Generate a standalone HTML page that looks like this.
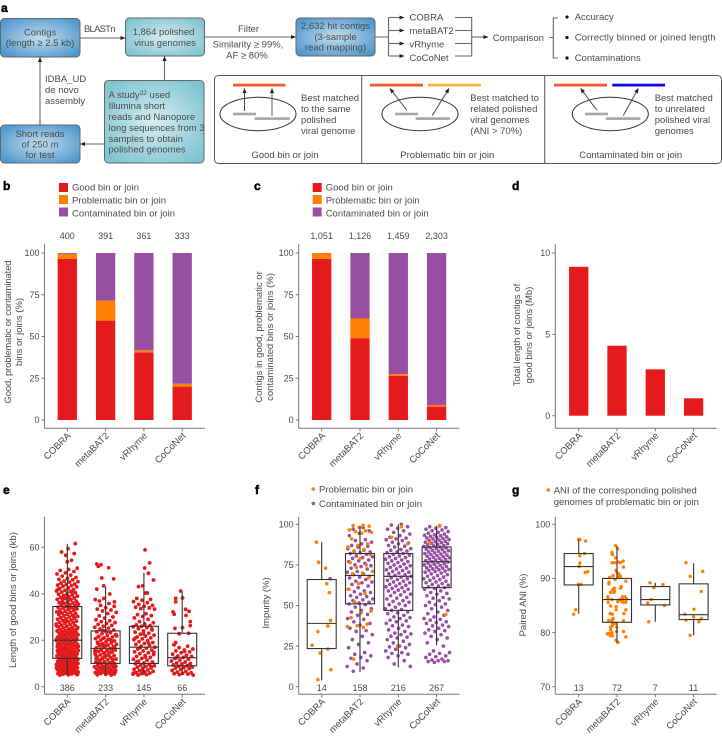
<!DOCTYPE html>
<html lang="en">
<head>
<meta charset="utf-8">
<title>Binning benchmark figure</title>
<style>
html,body{margin:0;padding:0;background:#fff;}
body{width:722px;height:736px;overflow:hidden;}
svg{display:block;font-family:"Liberation Sans",sans-serif;}
text{fill:#4a4a4a;font-size:9.5px;}
.pl{font-weight:bold;font-size:12px;fill:#000;stroke:#000;stroke-width:.5px;}
.ln{stroke:#666;stroke-width:1.1;fill:none;}
.dk{stroke:#444;stroke-width:1;fill:none;}
.c{text-anchor:middle;}
.bx{stroke:#666;stroke-width:1;}
</style>
</head>
<body>
<svg id="fig" width="722" height="736" viewBox="0 0 722 736" xmlns="http://www.w3.org/2000/svg">
<defs>
<radialGradient id="blueG" cx="50%" cy="50%" r="62%"><stop offset="0" stop-color="#c3deec"/><stop offset="1" stop-color="#4f97cd"/></radialGradient>
<radialGradient id="tealG" cx="50%" cy="50%" r="62%"><stop offset="0" stop-color="#d6edf1"/><stop offset="1" stop-color="#80c4d2"/></radialGradient>
<marker id="ah" viewBox="0 0 6 6" refX="5.5" refY="3" markerWidth="5" markerHeight="5" orient="auto" markerUnits="userSpaceOnUse"><path d="M0,0.5L6,3L0,5.5z" fill="#222"/></marker>
</defs>
<g id="panel-a">
<text class="pl" x="1" y="12">a</text>
<rect class="bx" x="0.5" y="18.5" width="79.5" height="38.5" rx="4" fill="url(#blueG)"/>
<text class="c" x="40" y="35.5">Contigs</text>
<text class="c" x="40" y="46">(length ≥ 2.5 kb)</text>
<rect class="bx" x="125.5" y="18" width="79" height="38" rx="4" fill="url(#tealG)"/>
<text class="c" x="163.5" y="35">1,864 polished</text>
<text class="c" x="165" y="46">virus genomes</text>
<rect class="bx" x="296" y="18" width="79" height="38" rx="4" fill="url(#blueG)"/>
<text class="c" x="335.5" y="29">2,632 hit contigs</text>
<text class="c" x="335.5" y="40">(3-sample</text>
<text class="c" x="335.5" y="50.5">read mapping)</text>
<rect class="bx" x="104.5" y="80.5" width="99.5" height="82.5" rx="4" fill="url(#tealG)"/>
<text x="108.5" y="98">A study<tspan dy="-3" font-size="6.5">32</tspan><tspan dy="3"> used</tspan></text>
<text x="108.5" y="109">Illumina short</text>
<text x="108.5" y="120">reads and Nanopore</text>
<text x="108.5" y="131">long sequences from 3</text>
<text x="108.5" y="142">samples to obtain</text>
<text x="108.5" y="152.5">polished genomes</text>
<rect class="bx" x="0.5" y="125" width="79.5" height="38" rx="4" fill="url(#blueG)"/>
<text class="c" x="40" y="137">Short reads</text>
<text class="c" x="40" y="147.5">of 250 m</text>
<text class="c" x="40" y="158">for test</text>
<line class="ln" x1="80" y1="38" x2="125" y2="38" marker-end="url(#ah)"/>
<text x="84" y="32" textLength="31.5">BLASTn</text>
<line class="ln" x1="204.5" y1="37" x2="295.5" y2="37" marker-end="url(#ah)"/>
<text class="c" x="248.5" y="32">Filter</text>
<text class="c" x="248" y="47.5">Similarity ≥ 99%,</text>
<text class="c" x="247" y="58.5">AF ≥ 80%</text>
<line class="ln" x1="40" y1="125" x2="40" y2="57.5" marker-end="url(#ah)"/>
<text x="45" y="82">IDBA_UD</text>
<text x="45" y="93">de novo</text>
<text x="45" y="104">assembly</text>
<line class="ln" x1="164.5" y1="80.5" x2="164.5" y2="56.5" marker-end="url(#ah)"/>
<line class="ln" x1="104.5" y1="144" x2="80.5" y2="144" marker-end="url(#ah)"/>
<path class="ln" d="M375,37H388.5M388.5,17.5V56"/>
<line class="ln" x1="388.5" y1="17.5" x2="404" y2="17.5" marker-end="url(#ah)"/>
<line class="ln" x1="388.5" y1="30.5" x2="404" y2="30.5" marker-end="url(#ah)"/>
<line class="ln" x1="388.5" y1="43.5" x2="404" y2="43.5" marker-end="url(#ah)"/>
<line class="ln" x1="388.5" y1="56" x2="404" y2="56" marker-end="url(#ah)"/>
<text x="409.5" y="20.5">COBRA</text>
<text x="409.5" y="34">metaBAT2</text>
<text x="409.5" y="47.5">vRhyme</text>
<text x="409.5" y="61">CoCoNet</text>
<path class="ln" d="M455,17.5H471.7V56H455M455,30.5H471.7M455,43.5H471.7"/>
<line class="ln" x1="471.7" y1="37" x2="488" y2="37" marker-end="url(#ah)"/>
<text x="492.7" y="41">Comparison</text>
<path class="ln" d="M549,37.5H553.3M558,18H553.3V58H558"/>
<circle cx="567" cy="17" r="1.6" fill="#111"/>
<circle cx="567" cy="37.5" r="1.6" fill="#111"/>
<circle cx="567" cy="58" r="1.6" fill="#111"/>
<text x="574.7" y="20">Accuracy</text>
<text x="574.7" y="40.5" textLength="141">Correctly binned or joined length</text>
<text x="574.7" y="61">Contaminations</text>
<rect x="214.5" y="75.5" width="507" height="88" rx="4" fill="#fff" stroke="#555" stroke-width="1"/>
<line x1="361.7" y1="75.5" x2="361.7" y2="163.5" stroke="#555"/>
<line x1="544.7" y1="75.5" x2="544.7" y2="163.5" stroke="#555"/>
<g>
<rect x="233" y="83.7" width="52.5" height="2.8" fill="#f15a2b"/>
<ellipse cx="258" cy="114" rx="38" ry="16.7" fill="none" stroke="#333"/>
<rect x="233" y="112.7" width="23" height="2.6" fill="#a5a5a5"/>
<rect x="254.5" y="117.3" width="35.5" height="2.6" fill="#a5a5a5"/>
<line class="dk" x1="244.5" y1="111" x2="244.5" y2="88.5" marker-end="url(#ah)"/>
<line class="ln" x1="272" y1="116" x2="272" y2="88.5" marker-end="url(#ah)"/>
<text x="301" y="101">Best matched</text>
<text x="301" y="112">to the same</text>
<text x="301" y="123">polished</text>
<text x="301" y="134">viral genome</text>
<text class="c" x="285" y="158">Good bin or join</text>
</g>
<g>
<rect x="370" y="83.7" width="53" height="2.8" fill="#f15a2b"/>
<rect x="428" y="83.7" width="53" height="2.8" fill="#fbb040"/>
<ellipse cx="420" cy="114" rx="38" ry="16.7" fill="none" stroke="#333"/>
<rect x="395" y="112.7" width="23" height="2.6" fill="#a5a5a5"/>
<rect x="415.7" y="117.3" width="34.3" height="2.6" fill="#a5a5a5"/>
<line class="dk" x1="406.7" y1="110" x2="390" y2="88.5" marker-end="url(#ah)"/>
<line class="dk" x1="432.3" y1="115.5" x2="449" y2="88.5" marker-end="url(#ah)"/>
<text x="470.3" y="101">Best matched to</text>
<text x="470.3" y="112">related polished</text>
<text x="470.3" y="123">viral genomes</text>
<text x="470.3" y="134">(ANI &gt; 70%)</text>
<text class="c" x="447.3" y="158">Problematic bin or join</text>
</g>
<g>
<rect x="554" y="83.7" width="53" height="2.8" fill="#f15a2b"/>
<rect x="612.3" y="83.7" width="52.7" height="2.8" fill="#0a0ae6"/>
<ellipse cx="610.3" cy="114" rx="38" ry="16.7" fill="none" stroke="#333"/>
<rect x="585" y="112.7" width="23" height="2.6" fill="#a5a5a5"/>
<rect x="605.7" y="117.3" width="34.6" height="2.6" fill="#a5a5a5"/>
<line class="dk" x1="596.7" y1="110" x2="580.7" y2="88.5" marker-end="url(#ah)"/>
<line class="dk" x1="623.3" y1="115.5" x2="638.3" y2="88.5" marker-end="url(#ah)"/>
<text x="654.7" y="101">Best matched</text>
<text x="654.7" y="112">to unrelated</text>
<text x="654.7" y="123">polished viral</text>
<text x="654.7" y="134">genomes</text>
<text class="c" x="630.7" y="158">Contaminated bin or join</text>
</g>
</g>

<text class="pl" x="3" y="190">b</text>
<text class="pl" x="254" y="190">c</text>
<text class="pl" x="512" y="190">d</text>
<text class="pl" x="3" y="494">e</text>
<text class="pl" x="255" y="494">f</text>
<text class="pl" x="512" y="494">g</text>

<g>
<rect x="59" y="183" width="9" height="9" fill="#e41a1c"/>
<text x="72" y="190.5">Good bin or join</text>
<rect x="59" y="195" width="9" height="9" fill="#ff7f00"/>
<text x="72" y="203.5">Problematic bin or join</text>
<rect x="59" y="207.5" width="9" height="9" fill="#984ea3"/>
<text x="72" y="216.5">Contaminated bin or join</text>
</g>
<g>
<rect x="312.7" y="183" width="9" height="9" fill="#e41a1c"/>
<text x="325.7" y="190.5">Good bin or join</text>
<rect x="312.7" y="195" width="9" height="9" fill="#ff7f00"/>
<text x="325.7" y="203.5">Problematic bin or join</text>
<rect x="312.7" y="207.5" width="9" height="9" fill="#984ea3"/>
<text x="325.7" y="216.5">Contaminated bin or join</text>
</g>
<g>
<circle cx="313.3" cy="489" r="1.8" fill="#ff7f00"/>
<text x="319" y="492.5">Problematic bin or join</text>
<circle cx="313.3" cy="503.5" r="1.8" fill="#984ea3"/>
<text x="319" y="507">Contaminated bin or join</text>
</g>
<g>
<circle cx="548.3" cy="490" r="1.8" fill="#ff7f00"/>
<text x="553.7" y="493.5">ANI of the corresponding polished</text>
<text x="553.7" y="505">genomes of problematic bin or join</text>
</g>

<g>
<text class="c" transform="translate(11,332) rotate(-90)" textLength="143">Good, problematic or contaminated</text>
<text class="c" transform="translate(22,332) rotate(-90)">bins or joins (%)</text>
<text class="c" transform="translate(262,337) rotate(-90)">Contigs in good, problematic or</text>
<text class="c" transform="translate(273,337) rotate(-90)">contaminated bins or joins (%)</text>
<text class="c" transform="translate(520,335) rotate(-90)">Total length of contigs of</text>
<text class="c" transform="translate(532,335) rotate(-90)">good bins or joins (Mb)</text>
<text class="c" transform="translate(16,600) rotate(-90)">Length of good bins or joins (kb)</text>
<text class="c" transform="translate(269,603) rotate(-90)">Impurity (%)</text>
<text class="c" transform="translate(526,605) rotate(-90)">Paired ANI (%)</text>
</g>
</svg>

<script>
// ---------- shared categories ----------
const methods = ["COBRA","metaBAT2","vRhyme","CoCoNet"];

// ---------- panel b values (%) ----------
const bGood = [96.5,59.5,40.5,20];
const bProblematic = [3,12,1.2,1.7];
const bContaminated = [0.5,28.5,58.3,78.3];
const bCounts = ["400","391","361","333"];
const bTicks = [0,25,50,75,100];

// ---------- panel c values (%) ----------
const cGood = [96.5,49,26.5,8];
const cProblematic = [3.5,11.8,1,1];
const cContaminated = [0,39.2,72.5,91];
const cCounts = ["1,051","1,126","1,459","2,303"];
const cTicks = [0,25,50,75,100];

// ---------- panel d values (Mb) ----------
const dLength = [9.15,4.3,2.85,1.07];
const dTicks = [0,5,10];

// ---------- panel e values (kb) ----------
const eCounts = ["386","233","145","66"];
const eTicks = [0,20,40,60];
const eBoxes = [[5,12.2,20,34.5,61.5],[5,10,16.5,24,43],[5,10,17,26,49],[5,9,12.5,23,41]];
const eCobra = [61.6,59.4,58,57.3,56.6,54.4,53.8,51,50.5,50,49.6,49,48.5,48,47.6,47,46.6,46.2,46,45.5,45.2,45,44.6,44.2,44,43.7,43.5,43.2,43,42.5,42.2,41.8,41.5,41.2,41,40.7,40.4,40,39.8,39.5,39.2,39,38.7,38.4,38.2,37.9,37.6,37.4,37,36.8,36.5,36.2,36,35.8,35.5,35.2,35,34.8,34.5,34.2,34,33.8,33.5,33.2,33,32.8,32.5,32.2,32,31.7,31.5,31.2,31,30.8,30.5,30.2,30,29.7,29.4,29.2,29,28.7,28.5,28.2,28,27.7,27.5,27.2,27,26.8,26.5,26.3,26,25.8,25.5,25.3,25,24.8,24.6,24.4,24.2,24,23.8,23.6,23.4,23.2,23,22.8,22.6,22.4,22.2,22,21.8,21.6,21.4,21.2,21,20.8,20.6,20.4,20.2,20,19.8,19.6,19.4,19.2,19,18.8,18.6,18.4,18.2,18,17.8,17.6,17.4,17.2,17,16.8,16.6,16.4,16.2,16,15.8,15.6,15.4,15.2,15,14.9,14.7,14.5,14.3,14.1,14,13.8,13.6,13.4,13.2,13,12.9,12.7,12.5,12.3,12.1,12,11.8,11.6,11.4,11.2,11,10.9,10.7,10.5,10.3,10.1,10,9.9,9.7,9.5,9.3,9.1,9,8.9,8.7,8.5,8.3,8.1,8,7.9,7.8,7.6,7.5,7.3,7.2,7,6.9,6.8,6.6,6.5,6.3,6.2,6,5.9,5.8,5.6,5.5,5.4,5.2,5.1,5,24.5,22.5,20.5,18.5,16.5,14.5,12.5,10.5,8.5,6.5,25.5,23.5,21.5,19.5,17.5,15.5,13.5,11.5,9.5,7.5,5.5,30.5,28.5,26.5,37.5,35.5,33.5,39.5,42,41,38,36,34,32,30,28,26,24,22,20,18,16,14,12,10,8,6,24.1,21.1,18.1,15.1,13.1,11.1,10.6,9.6,9.2,8.6,8.2,7.7,7.4,7.1,6.7,6.4,6.1,5.7,5.3,5.6,6.6,7.6,8.4,9.4,10.4,11.3,12.4,13.3,14.4,15.3,16.3,17.3,18.3,19.3];
const eCobraJitter = [0.21,0.02,-0.15,0.18,-0.04,0.11,0];
const eMetabat = [52.8,52.5,51.8,51.2,46.8,46.4,43.4,42,39.9,36.9,36.5,38,37.5,35.8,35,34.6,34,33.4,33,32.6,32,31.5,30.5,30,29.5,28.8,28.4,28,27.6,27.2,26.8,26.4,26,25.6,25.2,24.8,24.4,24,23.6,23.2,22.8,22.4,22,21.7,21.4,21,20.7,20.4,20,19.7,19.4,19.1,18.8,18.5,18.2,17.9,17.6,17.3,17,16.7,16.4,16.1,15.8,15.5,15.2,14.9,14.6,14.3,14,13.7,13.4,13.1,12.8,12.5,12.2,11.9,11.6,11.3,11,10.8,10.6,10.3,10,9.8,9.6,9.3,9,8.8,8.6,8.4,8.2,8,7.8,7.6,7.4,7.2,7,6.8,6.6,6.4,6.2,6,5.9,5.7,5.5,5.3,5.1,5,24.2,22.2,20.2,18.2,16.2,14.2,12.2,10.2,8.3,6.3,23.5,21.5,19.5,17.5,15.5,13.5,11.5,9.5,7.5,5.6,6.7,7.7,8.7,9.7,10.7,11.7,12.7,13.7,14.7,15.7,16.8,17.8,18.7,19.8,20.8,21.8];
const eMetabatJitter = [-0.23,-0.12,-0.19,0.08,-0.1,0.21,-0.05,-0.23,0.11,-0.16,0.23];
const eVrhyme = [58.9,53.3,51.1,48.8,45.9,43.4,43.1,40.3,40.3,38,37.6,37.2,36.6,36.2,35.4,35,34.6,34.2,33.9,33.6,33.4,31.4,31,30.6,30.2,29.6,29,28,27.5,27,26.6,26.3,26,25.8,25.5,25,24.4,24,23.5,23,22.6,22.2,21.8,21.4,21,20.6,20.2,19.8,19.4,19,18.6,18.2,17.8,17.4,17,16.6,16.2,15.8,15.4,15,14.6,14.2,13.8,13.4,13,12.6,12.2,11.8,11.4,11,10.6,10.2,9.9,9.6,9.3,9,8.7,8.4,8.1,7.8,7.5,7.2,6.9,6.6,6.3,6,5.8,5.6,5.4,5.2,5,24.8,22.8,20.8,18.8,16.8,14.8,12.8,10.8,8.8,6.8,5.9];
const eVrhymeJitter = [0.03,0.15,0.02,0.12,0.25,-0.03,-0.14,0.05,0.09];
const eCoconet = [41.2,38.2,38,36.5,33.3,32.4,32.2,31.2,30.7,28,26.3,25.4,25.1,23,22.8,19,18.2,18,17.4,16.8,16.2,15.8,15.4,15,14.6,14,13.5,13.2,13,12.6,12.2,11.8,11.4,11,10.6,10.2,10,9.8,9.4,9,8.8,8.5,8.2,8,7.8,7.4,7,6.6,6.3,6,5.8,5.6,5.4,5.2,5,15.2,12.4,9.6];
const eCoconetJitter = [-0.04,0.01,-0.17,-0.17,0.09,0.18,-0.24,-0.21,0.1,0.21,0.21,0.01,-0.19,0.17,-0.08,-0.17,-0.2];

// ---------- panel f values (%) ----------
const fCounts = ["14","158","216","267"];
const fTicks = [0,25,50,75,100];
const fBoxes = [[4,23.5,39,66,89],[9,51,68.5,82,99],[12,47,68,82,100],[25.5,61,77,86,99]];
const fCobraProblematic = [89,76.6,73,63.4,57.9,40.8,37.4,33.9,25.5,23.2,20.7,10.5,4.3];
const fCobraProblematicJitter = [-0.14,-0.08,0.1,0.13,0.2,0.23,0.16,-0.1,-0.25,0.16,-0.04,0.24,-0.1];
const fCobraContaminated = [66.5];
const fCobraContaminatedJitter = [0.22];
const fMetabatContaminated = [98,97,96,94.5,93,90.5,90,89,88,87,86.5,86,85,84,83.5,83,82.5,82,81.5,80.5,80,79.5,79,78,77.5,77,76,75,74.5,74,73,72.5,71,70.5,69.5,69,68,67.5,67,66,65,64.5,64,63,62,61,60,59,58.5,58,57,56,55.5,55,54,53.5,53,52,51.5,51,50.5,49,48,47,46,44.5,44,42,41.5,40,39,38,36,34.5,34,32,31,29,27,26,24,21,20,19,18,17.5,16,14,12.5,11.5,9.5];
const fMetabatProblematic = [99.3,99.2,98.8,98,96.5,96,95.5,95,94.5,91,88,87,86,84.5,83,81.5,79,76.5,75,73.5,71,70,69.5,67,63.5,60,57.5,52,46.5,45.5,42.5,38.5,37.5,37,36.5,17];
const fVrhymeContaminated = [100,99.5,98.5,97.5,97,96,95,94,93,92,91.5,91,90.5,90,89,88.5,88,87,86.5,86,85,84.5,84,83.5,83,82.5,82,81.5,81,80.5,80,79.5,79,78.5,78,77.5,77,76.5,76,75.5,75,74.5,74,73.5,73,72.5,72,71.5,71,70.5,70,69.5,69,68.5,68,67.5,67,66.5,66,65.5,65,64.5,64,63.5,63,62.5,62,61.5,61,60.5,60,59.5,59,58.5,58,57,56.5,56,55,54.5,54,53,52.5,52,51,50.5,50,49,48,47.5,47,46,45.5,45,44,43,42.5,42,41,40.5,40,39,38,37.5,37,36,35,34,33,32.5,32,31,30.5,30,29,28,27,26,25,24.5,24,23,22,21,20.5,20,19,18,16,14,12.5];
const fVrhymeProblematic = [98.5,92,88,25];
const fCoconetContaminated = [99,98.5,98,97.5,97,96.5,96,95.5,95,94.5,94,93.5,93.2,93,92.5,92.2,92,91.6,91.3,91,90.6,90.3,90,89.6,89.3,89,88.7,88.4,88,87.7,87.4,87,86.7,86.4,86,85.7,85.4,85,84.7,84.4,84,83.7,83.4,83,82.7,82.4,82,81.7,81.4,81,80.7,80.4,80,79.7,79.4,79,78.7,78.4,78,77.7,77.4,77,76.7,76.4,76,75.7,75.4,75,74.6,74.3,74,73.6,73.2,73,72.6,72.2,72,71.6,71.2,71,70.5,70,69.5,69,68.5,68,67.5,67,66.5,66,65.5,65,64.5,64,63.5,63,62.5,62,61.5,61,60.5,60,59,58,57.5,57,56,55,54.5,54,53,52,51,50.5,50,49,48,47,46,45,44,43,42,41.5,41,40,39.5,39,38,37.5,37,36,35,34.5,34,33,32,31,30,29,27,25,22,21,20.5,20,19,18.5,18,17,16.5,16,16,15.5,15.5,15];
const fCoconetProblematic = [99.3,88.5,44.5];

// ---------- panel g values (%) ----------
const gCounts = ["13","72","7","11"];
const gTicks = [70,80,90,100];
const gBoxes = [[83.5,88.8,92.2,94.6,97.2],[78,81.9,86.1,90,96],[82,85.1,86.1,88.5,89.2],[79.5,82.4,83.3,89,92.8]];
const gCobra = [97.2,97.2,96.9,94.6,94.2,92.85,92.2,91.25,91.1,88.9,88.9,84.2,83.4];
const gCobraJitter = [0,0.03,0.18,0.15,0.03,0.03,0.01,0.24,0.17,-0.01,0.06,-0.08,-0.13];
const gMetabat = [96.05,95.5,94.8,94.4,93.8,92.9,92.9,92.9,93.2,93,92.1,91.5,91.1,90.2,90.5,90.8,90.4,90.2,89.5,89.3,89,89.8,88.5,88.2,88.2,87.9,87.7,87.4,87.4,86.6,86.6,86.6,86.3,86.1,86.1,86.1,86.2,85.7,85.6,85.7,85.6,85.6,84.9,84.8,84.2,84.2,83.5,83.5,83.4,82.6,82.3,82.2,82.2,81.9,81.7,81.2,81,81,80.5,80.2,80.2,80,79.8,79.8,79.7,79.4,79.4,79.2,78.6,78.2,79.7,81.6];
const gMetabatJitter = [-0.04,0.02,-0.13,-0.12,-0.04,-0.13,-0.06,0.09,0.16,0.04,0.17,-0.03,0,-0.19,-0.1,0.05,0.09,0.03,0.23,-0.21,-0.21,-0.05,0.11,0.09,-0.07,-0.12,-0.07,-0.17,-0.08,-0.24,0.14,0.21,-0.23,-0.13,0.15,0.08,0.25,0.13,-0.23,0.02,0.23,0.17,-0.17,-0.02,0.23,-0.02,-0.18,0.18,-0.12,-0.1,-0.13,0.17,-0.22,-0.13,-0.03,-0.13,-0.17,-0.01,-0.17,0.17,-0.01,-0.13,-0.25,-0.2,-0.16,-0.12,-0.17,0.23,-0.03,0.03,-0.23,-0.1];
const gVrhyme = [89.2,88.9,88.3,86.1,85.5,85,82];
const gVrhymeJitter = [-0.14,0.2,-0.04,-0.11,-0.2,0.24,-0.17];
const gCoconet = [92.9,90.4,91.3,87.6,84.3,83.4,82.9,82.6,82.3,82,79.5];
const gCoconetJitter = [-0.2,-0.09,0.24,0.2,0.01,-0.23,0,0.2,-0.2,0.14,-0.09];

// ---------- colours ----------
const RED = "#e41a1c", ORANGE = "#ff7f00", PURPLE = "#984ea3";
const NS = "http://www.w3.org/2000/svg";
const fig = document.getElementById("fig");

function make(tag, attrs, parent, txt) {
  const el = document.createElementNS(NS, tag);
  for (const k in attrs) el.setAttribute(k, attrs[k]);
  if (txt !== undefined) el.textContent = txt;
  parent.appendChild(el);
  return el;
}

const BAND = 38.3;
const BAR_W = 19.3;
const BOX_W = 29;

function frame(name, axisX, axisEnd, axisTop, axisBottom, catStart, yScale, ticks) {
  const g = make("g", {}, fig);
  
  
  const y = make("line", {x1:axisX, x2:axisX, y1:axisTop, y2:axisBottom, stroke:"#777"}, g);
  
  
  const x = make("line", {x1:axisX, x2:axisEnd, y1:axisBottom, y2:axisBottom, stroke:"#777"}, g);
  
  
  ticks.forEach(t => {
    const m = make("line", {x1:axisX-3, x2:axisX, y1:yScale(t), y2:yScale(t), stroke:"#777"}, g);
    
    
    const l = make("text", {x:axisX-5, y:yScale(t)+3.2, "text-anchor":"end", style:"font-size:9px"}, g, String(t));
    
    
  });
  methods.forEach((m, i) => {
    const cx = catStart + i * BAND;
    const t = make("line", {x1:cx, x2:cx, y1:axisBottom, y2:axisBottom+3, stroke:"#777"}, g);
    
    
    const l = make("text", {"text-anchor":"end", transform:"translate("+(cx+4)+","+(axisBottom+8)+") rotate(-45)"}, g, m);
    
    
  });
  return g;
}

// linear axis function: data value to vertical position
function linear(v0, p0, v1, p1) {
  return v => p0 + (v - v0) * (p1 - p0) / (v1 - v0);
}

function stacked(name, axisX, catStart, good, prob, cont, counts, ticks) {
  const ys = linear(0, 420, 100, 253);
  const g = frame(name, axisX, axisX + 160.5, 244, 428.3, catStart, ys, ticks);
  methods.forEach((m, i) => {
    const cx = catStart + i * BAND;
    const a = make("rect", {x:cx-BAR_W/2, width:BAR_W, y:ys(good[i]), height:ys(0)-ys(good[i]), fill:RED}, g);
    
    
    const top1 = good[i] + prob[i];
    const b = make("rect", {x:cx-BAR_W/2, width:BAR_W, y:ys(top1), height:ys(good[i])-ys(top1), fill:ORANGE}, g);
    
    
    const top2 = top1 + cont[i];
    const c = make("rect", {x:cx-BAR_W/2, width:BAR_W, y:ys(top2), height:ys(top1)-ys(top2), fill:PURPLE}, g);
    
    
    const n = make("text", {x:cx, y:239, "text-anchor":"middle", style:"font-size:9px"}, g, counts[i]);
    
    
  });
}

stacked("panel-b-chart", 44.5, 67.3, bGood, bProblematic, bContaminated, bCounts, bTicks);
stacked("panel-c-chart", 298.7, 321.7, cGood, cProblematic, cContaminated, cCounts, cTicks);

(function panelD() {
  const ys = linear(0, 415.7, 10, 253);
  const g = frame("panel-d-chart", 555.3, 716.7, 244, 428.3, 578.7, ys, dTicks);
  methods.forEach((m, i) => {
    const cx = 578.7 + i * BAND;
    const r = make("rect", {x:cx-BAR_W/2, width:BAR_W, y:ys(dLength[i]), height:ys(0)-ys(dLength[i]), fill:RED}, g);
    
    
  });
})();

// spreads points sideways inside a category; it never touches the plotted value
function spread(i, width) {
  return (((i + 1) * 0.618034) % 1 - 0.5) * width;
}

function dots(g, vals, jitter, cx, ys, color, r, name, width) {
  vals.forEach((v, i) => {
    const off = jitter && jitter[i] !== undefined ? jitter[i] : spread(i, width);
    const c = make("circle", {cx:cx + off * BAND, cy:ys(v), r:r, fill:color}, g);
    
    
  });
}

function boxes(g, stats, catStart, ys) {
  stats.forEach((s, i) => {
    const cx = catStart + i * BAND;
    const w = make("path", {d:"M"+cx+","+ys(s[0])+"V"+ys(s[1])+"M"+cx+","+ys(s[3])+"V"+ys(s[4]), stroke:"#333", fill:"none", "stroke-width":1.1}, g);
    
    
    const b = make("rect", {x:cx-BOX_W/2, width:BOX_W, y:ys(s[3]), height:ys(s[1])-ys(s[3]), fill:"none", stroke:"#333", "stroke-width":1.1}, g);
    
    
    const m = make("line", {x1:cx-BOX_W/2, x2:cx+BOX_W/2, y1:ys(s[2]), y2:ys(s[2]), stroke:"#333", "stroke-width":1.1}, g);
    
    
  });
}

function countLabels(g, counts, catStart) {
  counts.forEach((c, i) => {
    const n = make("text", {x:catStart + i * BAND, y:691, "text-anchor":"middle", style:"font-size:9px"}, g, c);
    
    
  });
}

(function panelE() {
  const ys = linear(0, 686.7, 60, 547.3);
  const g = frame("panel-e-chart", 44.5, 205, 516.7, 694.3, 67.3, ys, eTicks);
  const w = 0.58;
  dots(g, eCobra, eCobraJitter, 67.3, ys, RED, 1.9, "point-good-length", w);
  dots(g, eMetabat, eMetabatJitter, 67.3 + BAND, ys, RED, 1.9, "point-good-length", w);
  dots(g, eVrhyme, eVrhymeJitter, 67.3 + 2 * BAND, ys, RED, 1.9, "point-good-length", w);
  dots(g, eCoconet, eCoconetJitter, 67.3 + 3 * BAND, ys, RED, 1.9, "point-good-length", w);
  boxes(g, eBoxes, 67.3, ys);
  countLabels(g, eCounts, 67.3);
})();

(function panelF() {
  const ys = linear(0, 686.7, 100, 524.3);
  const g = frame("panel-f-chart", 298.7, 459.3, 516.7, 694.3, 321.7, ys, fTicks);
  const c = 321.7;
  const w = 0.68;
  dots(g, fCobraContaminated, fCobraContaminatedJitter, c, ys, PURPLE, 1.8, "point-contaminated", w);
  dots(g, fCobraProblematic, fCobraProblematicJitter, c, ys, ORANGE, 1.8, "point-problematic", w);
  dots(g, fMetabatContaminated, null, c + BAND, ys, PURPLE, 1.8, "point-contaminated", w);
  dots(g, fMetabatProblematic, null, c + BAND, ys, ORANGE, 1.8, "point-problematic", w);
  dots(g, fVrhymeContaminated, null, c + 2 * BAND, ys, PURPLE, 1.8, "point-contaminated", w);
  dots(g, fVrhymeProblematic, null, c + 2 * BAND, ys, ORANGE, 1.8, "point-problematic", w);
  dots(g, fCoconetContaminated, null, c + 3 * BAND, ys, PURPLE, 1.8, "point-contaminated", w);
  dots(g, fCoconetProblematic, null, c + 3 * BAND, ys, ORANGE, 1.8, "point-problematic", w);
  boxes(g, fBoxes, c, ys);
  countLabels(g, fCounts, c);
})();

(function panelG() {
  const ys = linear(70, 686.7, 100, 524.3);
  const g = frame("panel-g-chart", 555.3, 716.7, 516.7, 694.3, 578.7, ys, gTicks);
  const c = 578.7;
  const w = 0.5;
  dots(g, gCobra, gCobraJitter, c, ys, ORANGE, 1.7, "point-ani", w);
  dots(g, gMetabat, gMetabatJitter, c + BAND, ys, ORANGE, 1.7, "point-ani", w);
  dots(g, gVrhyme, gVrhymeJitter, c + 2 * BAND, ys, ORANGE, 1.7, "point-ani", w);
  dots(g, gCoconet, gCoconetJitter, c + 3 * BAND, ys, ORANGE, 1.7, "point-ani", w);
  boxes(g, gBoxes, c, ys);
  countLabels(g, gCounts, c);
})();
</script>
</body>
</html>
